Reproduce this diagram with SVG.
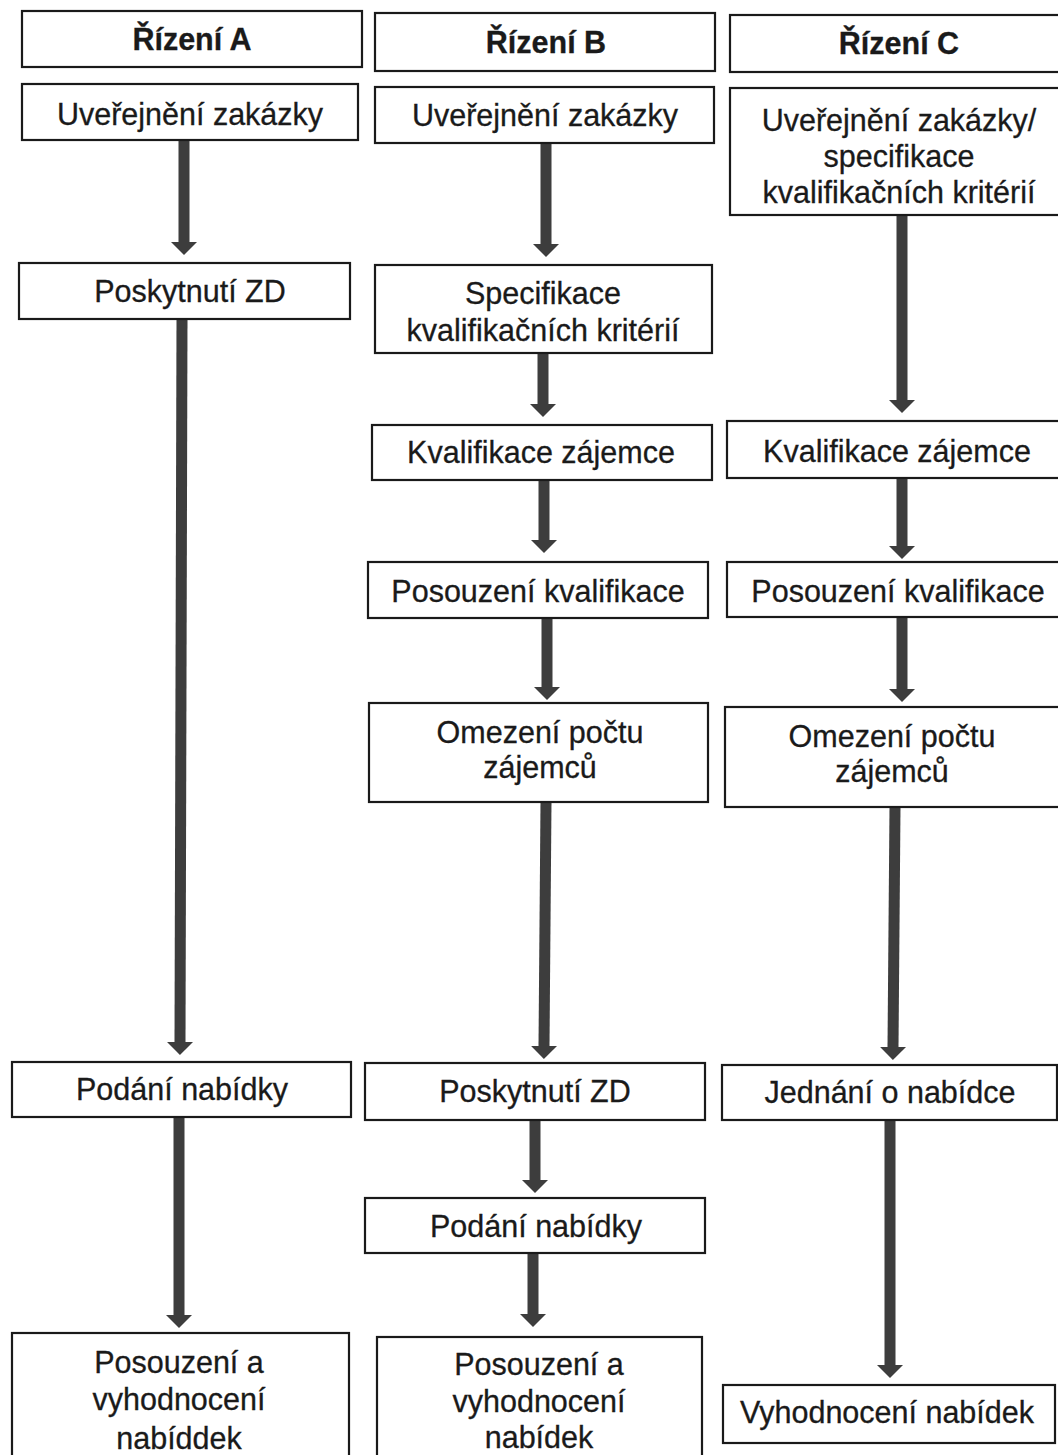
<svg xmlns="http://www.w3.org/2000/svg" width="1058" height="1455" viewBox="0 0 1058 1455">
<style>
.box{fill:#fff;stroke:#1a1a1a;stroke-width:2.2}
.t{font-family:"Liberation Sans",Arial,sans-serif;font-size:30.5px;fill:#1a1a1a;stroke:#1a1a1a;stroke-width:0.3;text-anchor:middle}
.b{font-weight:bold}
.ar{stroke:#3d3d3d;stroke-width:11;fill:none;marker-end:url(#ah)}
</style>
<defs>
<marker id="ah" markerUnits="userSpaceOnUse" viewBox="0 -13 13 26" refX="0" refY="0" markerWidth="13" markerHeight="26" orient="auto">
<path d="M0,-13 L13,0 L0,13 z" fill="#3d3d3d"/>
</marker>
</defs>
<rect width="1058" height="1455" fill="#fff"/>
<g id="connectors">
<line class="ar" x1="184" y1="140" x2="184" y2="242"/>
<line class="ar" x1="182" y1="319" x2="180" y2="1042"/>
<line class="ar" x1="179" y1="1117" x2="179" y2="1315"/>
<line class="ar" x1="546" y1="143" x2="546" y2="244"/>
<line class="ar" x1="543" y1="353" x2="543" y2="404"/>
<line class="ar" x1="544" y1="480" x2="544" y2="540"/>
<line class="ar" x1="547" y1="618" x2="547" y2="687"/>
<line class="ar" x1="546" y1="802" x2="544" y2="1046"/>
<line class="ar" x1="535" y1="1120" x2="535" y2="1180"/>
<line class="ar" x1="533" y1="1253" x2="533" y2="1314"/>
<line class="ar" x1="902" y1="215" x2="902" y2="400"/>
<line class="ar" x1="902" y1="478" x2="902" y2="546"/>
<line class="ar" x1="902" y1="617" x2="902" y2="689"/>
<line class="ar" x1="895" y1="807" x2="893" y2="1047"/>
<line class="ar" x1="890" y1="1120" x2="890" y2="1365"/>
</g>
<g id="hA"><rect class="box" x="22" y="11" width="340" height="56"/><text class="t b" x="192" y="50">Řízení A</text></g>
<g id="a1"><rect class="box" x="22" y="84" width="336" height="56"/><text class="t" x="190" y="125">Uveřejnění zakázky</text></g>
<g id="a2"><rect class="box" x="19" y="263" width="331" height="56"/><text class="t" x="190" y="302">Poskytnutí ZD</text></g>
<g id="a3"><rect class="box" x="12" y="1062" width="339" height="55"/><text class="t" x="182" y="1100">Podání nabídky</text></g>
<g id="a4"><rect class="box" x="12" y="1333" width="337" height="140"/><text class="t" x="179" y="1373">Posouzení a</text><text class="t" x="179" y="1410">vyhodnocení</text><text class="t" x="179" y="1449">nabíddek</text></g>
<g id="hB"><rect class="box" x="375" y="13" width="340" height="58"/><text class="t b" x="546" y="53">Řízení B</text></g>
<g id="b1"><rect class="box" x="375" y="87" width="339" height="56"/><text class="t" x="545" y="126">Uveřejnění zakázky</text></g>
<g id="b2"><rect class="box" x="375" y="265" width="337" height="88"/><text class="t" x="543" y="304">Specifikace</text><text class="t" x="543" y="341">kvalifikačních kritérií</text></g>
<g id="b3"><rect class="box" x="372" y="425" width="340" height="55"/><text class="t" x="541" y="463">Kvalifikace zájemce</text></g>
<g id="b4"><rect class="box" x="368" y="562" width="340" height="56"/><text class="t" x="538" y="602">Posouzení kvalifikace</text></g>
<g id="b5"><rect class="box" x="369" y="703" width="339" height="99"/><text class="t" x="540" y="743">Omezení počtu</text><text class="t" x="540" y="778">zájemců</text></g>
<g id="b6"><rect class="box" x="365" y="1063" width="340" height="57"/><text class="t" x="535" y="1102">Poskytnutí ZD</text></g>
<g id="b7"><rect class="box" x="365" y="1198" width="340" height="55"/><text class="t" x="536" y="1237">Podání nabídky</text></g>
<g id="b8"><rect class="box" x="377" y="1337" width="325" height="140"/><text class="t" x="539" y="1375">Posouzení a</text><text class="t" x="539" y="1412">vyhodnocení</text><text class="t" x="539" y="1448">nabídek</text></g>
<g id="hC"><rect class="box" x="730" y="15" width="340" height="57"/><text class="t b" x="899" y="54">Řízení C</text></g>
<g id="c1"><rect class="box" x="730" y="88" width="340" height="127"/><text class="t" x="899" y="131">Uveřejnění zakázky/</text><text class="t" x="899" y="167">specifikace</text><text class="t" x="899" y="203">kvalifikačních kritérií</text></g>
<g id="c2"><rect class="box" x="727" y="421" width="340" height="57"/><text class="t" x="897" y="462">Kvalifikace zájemce</text></g>
<g id="c3"><rect class="box" x="727" y="562" width="340" height="55"/><text class="t" x="898" y="602">Posouzení kvalifikace</text></g>
<g id="c4"><rect class="box" x="725" y="707" width="340" height="100"/><text class="t" x="892" y="747">Omezení počtu</text><text class="t" x="892" y="782">zájemců</text></g>
<g id="c5"><rect class="box" x="722" y="1065" width="335" height="55"/><text class="t" x="890" y="1103">Jednání o nabídce</text></g>
<g id="c6"><rect class="box" x="723" y="1385" width="332" height="58"/><text class="t" x="887" y="1423">Vyhodnocení nabídek</text></g>
</svg>
